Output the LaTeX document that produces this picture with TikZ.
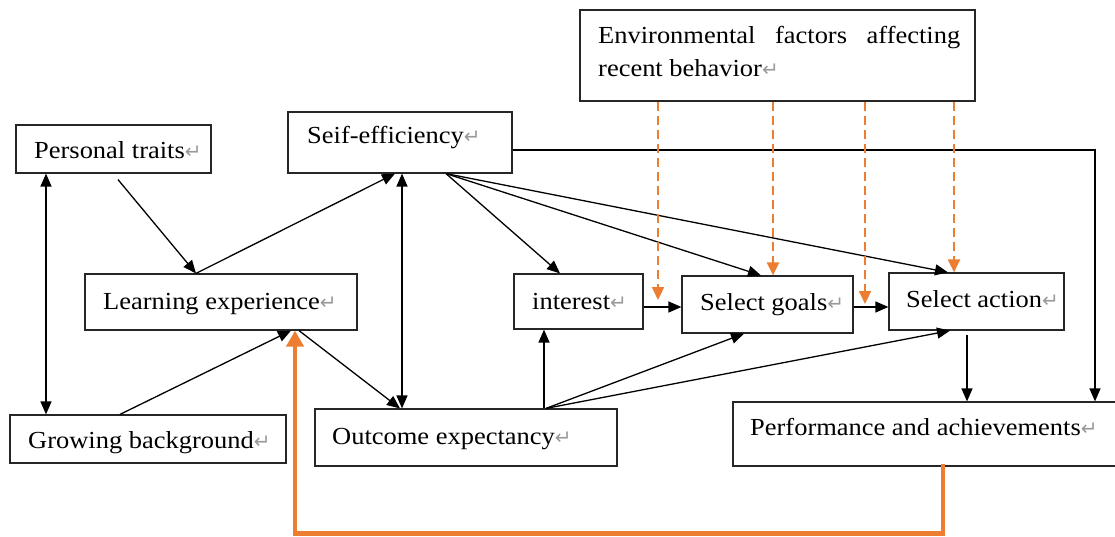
\documentclass[tikz,border=0pt]{standalone}
\usepackage{fontspec}
\setmainfont{Liberation Serif}[FakeStretch=1.08]
\newfontfamily\symfont{DejaVu Sans}
\usetikzlibrary{arrows.meta,calc}
\definecolor{orng}{HTML}{ED7D31}
\definecolor{retgray}{HTML}{9A9A9A}
\newcommand\ret{{\color{retgray}\symfont\fontsize{20}{20}\selectfont\char"21B5}}
\begin{document}
\begin{tikzpicture}[x=1pt,y=-1pt,
  box/.style={draw=black!85, line width=1.2pt, inner sep=0pt},
  txt/.style={inner sep=0pt, anchor=base west, font=\fontsize{24.5}{33}\selectfont},
  arr/.style={draw, line width=1.3pt, -{Triangle[length=13pt,width=11pt]}},
  darr/.style={draw, line width=1.3pt, {Triangle[length=13pt,width=11pt]}-{Triangle[length=13pt,width=11pt]}},
  odash/.style={draw=orng, line width=2.2pt, dash pattern=on 9pt off 5pt, -{Triangle[length=13pt,width=12pt]}},
  othick/.style={draw=orng, line width=4.5pt, -{Triangle[length=16pt,width=17pt]}}]
\useasboundingbox (0,0) rectangle (1115,537);
% boxes
\node[box, minimum width=195pt, minimum height=48pt] (pt) at (113.5,149) {};
\node[box, minimum width=224pt, minimum height=61pt] (se) at (400,142.5) {};
\node[box, minimum width=395pt, minimum height=91pt] (env) at (777.5,55.5) {};
\node[box, minimum width=272pt, minimum height=56pt] (le) at (221,302) {};
\node[box, minimum width=129pt, minimum height=55pt] (int) at (578.5,301.5) {};
\node[box, minimum width=171pt, minimum height=57pt] (sg) at (767.5,304.5) {};
\node[box, minimum width=175pt, minimum height=57pt] (sa) at (976.5,301.5) {};
\node[box, minimum width=276pt, minimum height=48pt] (gb) at (148,439) {};
\node[box, minimum width=302pt, minimum height=57pt] (oe) at (466,437.5) {};
\node[box, minimum width=386pt, minimum height=64pt] (pa) at (926,434) {};
% texts
\node[txt] (pt-t) at (34,159) {Personal traits\ret};
\node[txt] (se-t) at (307,144) {Seif-efficiency\ret};
\node[txt] (env-t1) at (598,44) {\makebox[362pt][s]{Environmental factors affecting}};
\node[txt] (env-t2) at (598,77) {recent behavior\ret};
\node[txt] (le-t) at (103,309) {Learning experience\ret};
\node[txt] (int-t) at (532,309) {interest\ret};
\node[txt] (sg-t) at (700,310) {Select goals\ret};
\node[txt] (sa-t) at (906,307) {Select action\ret};
\node[txt] (gb-t) at (28,448) {Growing background\ret};
\node[txt] (oe-t) at (332,444) {Outcome expectancy\ret};
\node[txt] (pa-t) at (750,435) {Performance and achievements\ret};
% connectors
\draw[darr] (pt.south -| 46,0) -- (gb.north -| 46,0);
\draw[arr] ([yshift=-6pt]pt.south -| 118,0) -- (le.north -| 196,0);
\draw[arr] (le.north -| 196,0) -- (se.south -| 395,0);
\draw[darr] (se.south -| 402,0) -- (oe.north -| 402,0);
\draw[arr] (gb.north -| 120,0) -- (le.south -| 291,0);
\draw[arr] (le.south -| 299,0) -- (oe.north -| 400,0);
\draw[arr] (se.south -| 446,0) -- (int.north -| 560,0);
\draw[arr] (se.south -| 446,0) -- (sg.north -| 761,0);
\draw[arr] (se.south -| 446,0) -- (sa.north -| 948,0);
\draw[arr] (se.east |- 0,150) -| (pa.north -| 1095,0);
\draw[arr] (int.east |- 0,307) -- (sg.west |- 0,307);
\draw[arr] (sg.east |- 0,307) -- (sa.west |- 0,307);
\draw[arr] ([yshift=-4pt]sa.south -| 967,0) -- (pa.north -| 967,0);
\draw[arr] (oe.north -| 544,0) -- (int.south -| 544,0);
\draw[arr] (oe.north -| 546,0) -- (sg.south -| 744,0);
\draw[arr] (oe.north -| 546,0) -- (sa.south -| 950,0);
% orange feedback
\draw[othick] ([yshift=3pt]pa.south -| 943,0) -- ++(0,70) -| (le.south -| 295,0);
% dashed environmental arrows
\coordinate (d1) at (658,300);
\coordinate (d3) at (865,304);
\draw[odash] (env.south -| 658,0) -- (d1);
\draw[odash] (env.south -| 773,0) -- (sg.north -| 773,0);
\draw[odash] (env.south -| 865,0) -- (d3);
\draw[odash] (env.south -| 954,0) -- (sa.north -| 954,0);
\end{tikzpicture}
\end{document}
